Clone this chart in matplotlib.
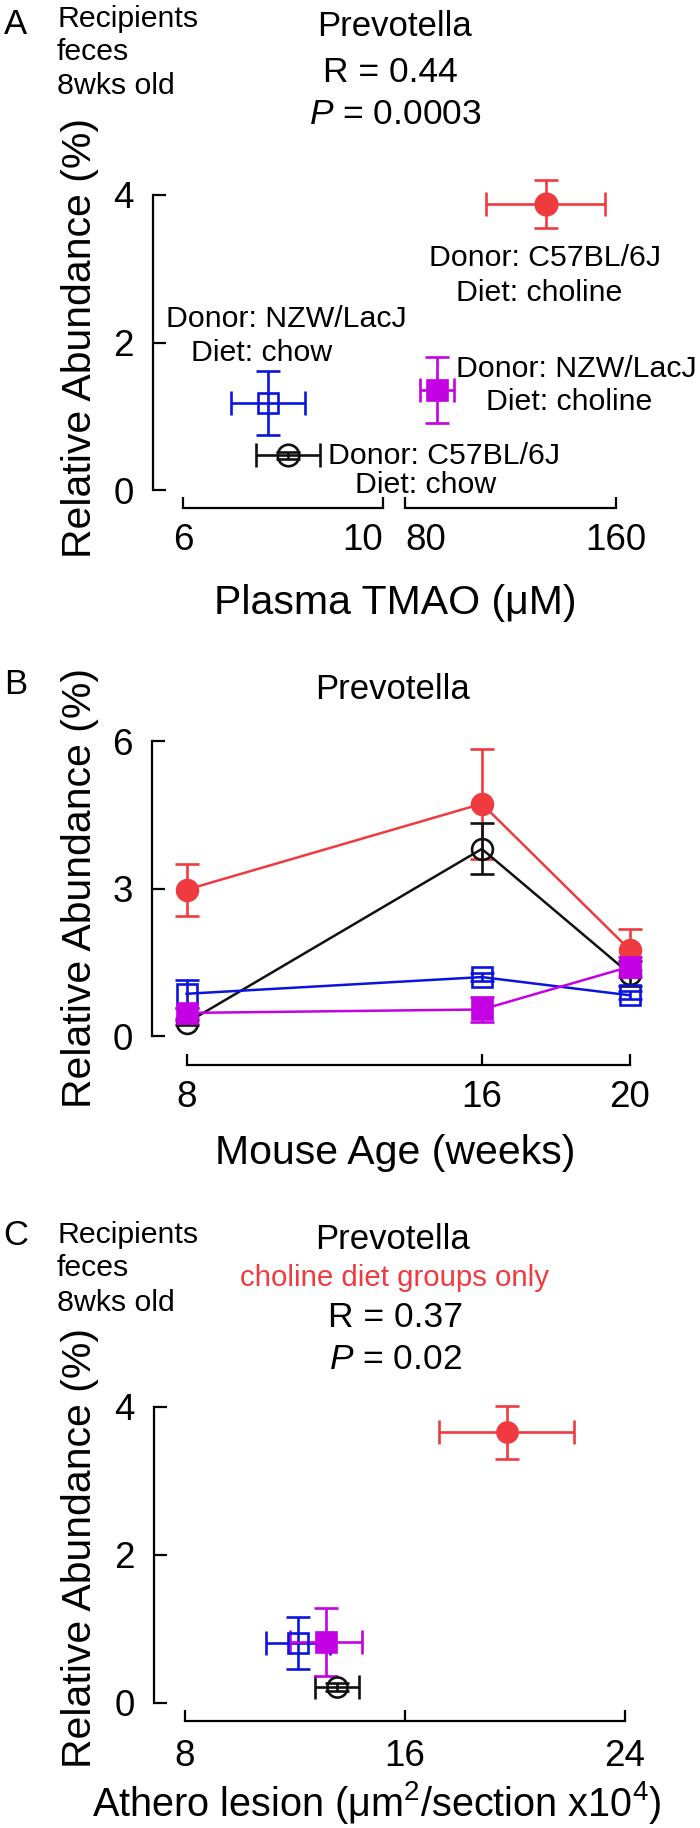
import matplotlib
matplotlib.use('Agg')
import matplotlib.pyplot as plt

plt.rcParams['font.family'] = ['Liberation Sans', 'DejaVu Sans']
plt.rcParams['mathtext.fontset'] = 'custom'
plt.rcParams['mathtext.rm'] = 'Liberation Sans'
plt.rcParams['mathtext.it'] = 'Liberation Sans:italic'
plt.rcParams['mathtext.bf'] = 'Liberation Sans:bold'

# ---------------- data ----------------
groups = ['C57BL/6J chow', 'NZW/LacJ chow', 'C57BL/6J choline', 'NZW/LacJ choline']
colors = ['#111111', '#0A14DC', '#EF3B3F', '#C400E4']
markers = ['o', 's', 'o', 's']
filled = [False, False, True, True]
draw_order = [2, 0, 1, 3]

# Panel A: plasma TMAO (uM) vs relative abundance (%), 8 wks
tmao = [8.10, 7.70, 133.3, 92.0]
tmao_err = [0.64, 0.74, 22.6, 6.5]
tmao_segment = ['low', 'low', 'high', 'high']
abund_a = [0.47, 1.18, 3.88, 1.36]
abund_a_err = [0.05, 0.44, 0.33, 0.45]

# Panel B: mouse age (weeks) vs relative abundance (%)
ages = [8, 16, 20]
abund_b = [
    [0.27, 3.81, 1.27],   # C57BL/6J chow
    [0.86, 1.20, 0.83],   # NZW/LacJ chow
    [2.98, 4.73, 1.76],   # C57BL/6J choline
    [0.47, 0.54, 1.41],   # NZW/LacJ choline
]
abund_b_err = [
    [0.05, 0.52, 0.25],
    [0.28, 0.08, 0.08],
    [0.53, 1.12, 0.42],
    [0.10, 0.26, 0.20],
]

# Panel C: athero lesion vs relative abundance (%)
lesion = [13.53, 12.12, 19.7, 13.12]
lesion_err = [0.8, 1.16, 2.45, 1.3]
abund_c = [0.21, 0.81, 3.66, 0.82]
abund_c_err = [0.05, 0.35, 0.36, 0.46]

annot_a = [
    ('Donor: C57BL/6J', 'Diet: chow'),
    ('Donor: NZW/LacJ', 'Diet: chow'),
    ('Donor: C57BL/6J', 'Diet: choline'),
    ('Donor: NZW/LacJ', 'Diet: choline'),
]

# ---------------- layout helpers ----------------
W, H, DPI = 700, 1828, 100
fig = plt.figure(figsize=(W / DPI, H / DPI), dpi=DPI)
PX = 72.0 / DPI  # points per pixel


def add_ax(x0, x1, ytop, ybot):
    return fig.add_axes([x0 / W, 1 - ybot / H, (x1 - x0) / W, (ybot - ytop) / H])


def T(px, py, s, size, ha='center', va='center_baseline', **kw):
    fig.text(px / W, 1 - py / H, s, fontsize=size, ha=ha, va=va, **kw)


LW = 1.6
ELW = 1.9
TICKFS = 26.5
LABFS = 29.5


def style_axis(ax, left_off, bottom_off, xb, yb, show_left=True, xpad=11, ypad=14):
    for s in ['top', 'right']:
        ax.spines[s].set_visible(False)
    ax.patch.set_alpha(0)
    ax.spines['bottom'].set_position(('outward', bottom_off * PX))
    ax.spines['bottom'].set_bounds(*xb)
    ax.spines['bottom'].set_linewidth(LW)
    ax.tick_params(axis='x', direction='in', length=8, width=LW, labelsize=TICKFS, pad=xpad)
    if show_left:
        ax.spines['left'].set_position(('outward', left_off * PX))
        ax.spines['left'].set_bounds(*yb)
        ax.spines['left'].set_linewidth(LW)
        ax.tick_params(axis='y', direction='in', length=9, width=LW, labelsize=TICKFS, pad=ypad)
    else:
        ax.spines['left'].set_visible(False)
        ax.tick_params(axis='y', left=False, labelleft=False)


def draw_point(ax, x, y, xe, ye, i, ms):
    c = colors[i]
    cont = ax.errorbar([x], [y], xerr=[xe], yerr=[ye], fmt=markers[i], color=c,
                       mfc=c if filled[i] else 'none', mec=c, ms=ms, mew=ELW,
                       elinewidth=ELW, capsize=8.5, capthick=ELW)
    for a in cont.get_children():
        a.set_clip_on(False)


# ---------------- Panel A ----------------
axA1 = add_ax(183, 383, 195, 490)
axA2 = add_ax(405, 616, 195, 490)
axA1.set_xlim(6, 10); axA1.set_ylim(0, 4)
axA2.set_xlim(80, 160); axA2.set_ylim(0, 4)
style_axis(axA1, 30, 18, (6, 10), (0, 4))
style_axis(axA2, 0, 18, (80, 160), (0, 4), show_left=False)
axA1.set_yticks([0, 2, 4])
axA1.set_xticks([6, 10])
axA2.set_xticks([80, 160])
axA1.get_xticklabels()[1].set_ha('right')
axA2.get_xticklabels()[0].set_ha('left')

for i in draw_order:
    ax = axA1 if tmao_segment[i] == 'low' else axA2
    draw_point(ax, tmao[i], abund_a[i], tmao_err[i], abund_a_err[i], i,
               15.5 if markers[i] == 'o' else 15)

ANN = 21.8
# annotation text placement (pixels)
T(545, 255, annot_a[2][0], ANN); T(539, 290, annot_a[2][1], ANN)
T(286, 316, annot_a[1][0], ANN); T(262, 350, annot_a[1][1], ANN)
T(456, 366, annot_a[3][0], ANN, ha='left'); T(569, 399, annot_a[3][1], ANN)
T(328, 453, annot_a[0][0], ANN, ha='left'); T(426, 482, annot_a[0][1], ANN)

T(16, 21, 'A', 25)
T(57, 16, 'Recipients', ANN, ha='left')
T(57, 49, 'feces', ANN, ha='left')
T(57, 83, '8wks old', ANN, ha='left')
T(395, 23, 'Prevotella', 25)
T(390, 69, 'R = 0.44', 25.5)
T(395, 111, '$P$ = 0.0003', 25.5)
T(80, 338, 'Relative Abundance (%)', LABFS, va='center', rotation=90)
T(395, 599, 'Plasma TMAO (\u03bcM)', LABFS)

# ---------------- Panel B ----------------
axB = add_ax(186.6, 629.5, 741.4, 1036)
axB.set_xlim(8, 20); axB.set_ylim(0, 6)
style_axis(axB, 34.6, 28.6, (8, 20), (0, 6))
axB.set_xticks(ages)
axB.set_yticks([0, 3, 6])
for i in draw_order:
    c = colors[i]
    cont = axB.errorbar(ages, abund_b[i], yerr=abund_b_err[i], fmt='-' + markers[i], color=c,
                        mfc=c if filled[i] else 'none', mec=c, ms=15, mew=ELW, lw=1.8,
                        elinewidth=ELW, capsize=8.5, capthick=ELW)
    for a in cont.get_children():
        a.set_clip_on(False)

T(16, 681, 'B', 25)
T(393, 686, 'Prevotella', 25)
T(80, 888, 'Relative Abundance (%)', LABFS, va='center', rotation=90)
T(395, 1149, 'Mouse Age (weeks)', LABFS)

# ---------------- Panel C ----------------
axC = add_ax(185, 625, 1407, 1702.7)
axC.set_xlim(8, 24); axC.set_ylim(0, 4)
style_axis(axC, 31, 18.3, (8, 24), (0, 4), xpad=13)
axC.set_xticks([8, 16, 24])
axC.set_yticks([0, 2, 4])
for i in draw_order:
    draw_point(axC, lesion[i], abund_c[i], lesion_err[i], abund_c_err[i], i, 14.5)

T(16, 1232, 'C', 25)
T(57, 1232, 'Recipients', ANN, ha='left')
T(57, 1265, 'feces', ANN, ha='left')
T(57, 1300, '8wks old', ANN, ha='left')
T(393, 1236, 'Prevotella', 25)
T(395, 1275, 'choline diet groups only', 21.2, color='#EF3B3F')
T(395, 1314, 'R = 0.37', 25.5)
T(395, 1356, '$P$ = 0.02', 25.5)
T(80, 1548, 'Relative Abundance (%)', LABFS, va='center', rotation=90)
T(377, 1797, 'Athero lesion (\u03bcm$^2$/section x10$^4$)', 28.5)

fig.savefig('out.png', dpi=DPI)
